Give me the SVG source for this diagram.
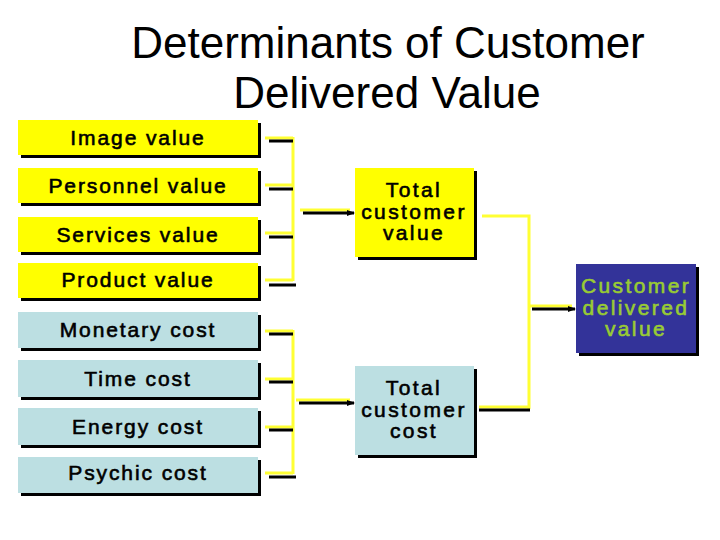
<svg xmlns="http://www.w3.org/2000/svg" width="720" height="540" viewBox="0 0 720 540">
<style>
.t{font-family:"Liberation Sans",Arial,sans-serif;fill:#000}
.title{font-size:44px;text-anchor:middle}
.lab{font-size:21px;text-anchor:middle;letter-spacing:1.9px;stroke:#000;stroke-width:0.6px}
.big{font-size:21px;text-anchor:middle;letter-spacing:2.4px;stroke:#000;stroke-width:0.6px}
.g{fill:#99cc33;stroke:#99cc33}
.sh{fill:#000}
.y{fill:#ffff00}
.b{fill:#bcdfe2}
.n{fill:#333399}
.yl{stroke:#ffff33;stroke-width:3;fill:none}
.bl{stroke:#000;stroke-width:3;fill:none}
</style>
<defs>
<marker id="ah" markerWidth="8" markerHeight="8" refX="7" refY="4" orient="auto" markerUnits="userSpaceOnUse">
<path d="M0,1 L8,4 L0,7 Z" fill="#000"/>
</marker>
</defs>
<rect width="720" height="540" fill="#fff"/>
<g id="title">
<text class="t title" x="388" y="58">Determinants of Customer</text>
<text class="t title" x="387" y="108">Delivered Value</text>
</g>
<g id="image-value"><rect class="sh" x="21" y="123" width="240" height="35"/><rect class="y" x="18" y="120" width="240" height="35"/><text class="t lab" x="138" y="145">Image value</text></g>
<g id="personnel-value"><rect class="sh" x="21" y="171" width="240" height="35"/><rect class="y" x="18" y="168" width="240" height="35"/><text class="t lab" x="138" y="193">Personnel value</text></g>
<g id="services-value"><rect class="sh" x="21" y="220" width="240" height="35"/><rect class="y" x="18" y="217" width="240" height="35"/><text class="t lab" x="138" y="242">Services value</text></g>
<g id="product-value"><rect class="sh" x="21" y="266" width="240" height="35"/><rect class="y" x="18" y="263" width="240" height="35"/><text class="t lab" x="138" y="287">Product value</text></g>
<g id="monetary-cost"><rect class="sh" x="21" y="315" width="240" height="36"/><rect class="b" x="18" y="312" width="240" height="36"/><text class="t lab" x="138" y="337">Monetary cost</text></g>
<g id="time-cost"><rect class="sh" x="21" y="363" width="240" height="37"/><rect class="b" x="18" y="360" width="240" height="37"/><text class="t lab" x="138" y="386">Time cost</text></g>
<g id="energy-cost"><rect class="sh" x="21" y="411" width="240" height="37"/><rect class="b" x="18" y="408" width="240" height="37"/><text class="t lab" x="138" y="434">Energy cost</text></g>
<g id="psychic-cost"><rect class="sh" x="21" y="460" width="240" height="36"/><rect class="b" x="18" y="457" width="240" height="36"/><text class="t lab" x="138" y="480">Psychic cost</text></g>
<g id="total-customer-value"><rect class="sh" x="358" y="171" width="119" height="89"/><rect class="y" x="355" y="168" width="119" height="89"/>
<text class="t big" x="414" y="197">Total</text><text class="t big" x="414" y="219">customer</text><text class="t big" x="414" y="240">value</text></g>
<g id="total-customer-cost"><rect class="sh" x="358" y="369" width="119" height="89"/><rect class="b" x="355" y="366" width="119" height="89"/>
<text class="t big" x="414" y="395">Total</text><text class="t big" x="414" y="417">customer</text><text class="t big" x="414" y="438">cost</text></g>
<g id="customer-delivered-value"><rect class="sh" x="579" y="267" width="120" height="89"/><rect class="n" x="576" y="264" width="120" height="89"/>
<text class="t big g" x="636" y="293">Customer</text><text class="t big g" x="636" y="315">delivered</text><text class="t big g" x="636" y="336">value</text></g>
<g id="connectors">
<path class="yl" d="M265,138 H293 M265,185 H293 M265,233 H293 M265,280 H293 M293,137 V281"/>
<path class="bl" d="M269,141 H293 M269,189 H293 M269,237 H293 M269,285 H296"/>
<path class="yl" d="M300,210 H350"/>
<path class="bl" d="M303,213 H354" marker-end="url(#ah)"/>
<path class="yl" d="M265,331 H293 M265,379 H293 M265,427 H293 M265,473 H293 M293,330 V474"/>
<path class="bl" d="M269,334 H293 M269,382 H293 M269,430 H293 M269,477 H296"/>
<path class="yl" d="M296,400 H350"/>
<path class="bl" d="M299,403 H354" marker-end="url(#ah)"/>
<path class="yl" d="M482,216 H529 V409 M479,407 H529"/>
<path class="bl" d="M479,410 H530"/>
<path class="yl" d="M529,306 H572"/>
<path class="bl" d="M532,309 H575" marker-end="url(#ah)"/>
</g>
</svg>
